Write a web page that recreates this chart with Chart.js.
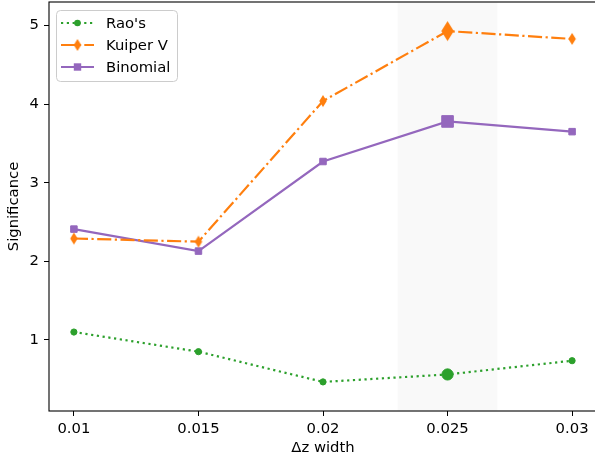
<!DOCTYPE html>
<html>
<head>
<meta charset="utf-8">
<script src="https://cdn.jsdelivr.net/npm/chart.js@4.4.1/dist/chart.umd.min.js"></script>
<style>
  html, body { margin: 0; padding: 0; background: #fff; overflow: hidden; }
  #wrap { width: 600px; height: 461px; }
</style>
</head>
<body>
<div id="wrap"><canvas id="miGrafico"></canvas></div>
<script>
// Datos de la figura
const anchos = [0.01, 0.015, 0.02, 0.025, 0.03];
const etiquetasX = ['0.01', '0.015', '0.02', '0.025', '0.03'];
const ticksY = [1, 2, 3, 4, 5];
const raos = [1.10, 0.85, 0.465, 0.56, 0.735];
const kuiperV = [2.29, 2.25, 4.04, 4.93, 4.83];
const binomial = [2.41, 2.13, 3.27, 3.78, 3.65];
const destacado = 3; // índice del ancho elegido
const banda = [0.023, 0.027];

const FUENTE = 'DejaVu Sans';
const VERDE = '#2ca02c', NARANJA = '#ff7f0e', MORADO = '#9467bd';
const PUNTOS = [2.2, 3.6];
const RAYA_PUNTO = [14.1, 3.5, 2.2, 3.5];

// Diamante estrecho (marcador 'd')
function diamante(w, h, color) {
    const c = document.createElement('canvas');
    c.width = Math.ceil(w) + 2;
    c.height = Math.ceil(h) + 2;
    const g = c.getContext('2d');
    const cx = c.width / 2, cy = c.height / 2;
    g.beginPath();
    g.moveTo(cx, cy - h / 2);
    g.lineTo(cx + w / 2, cy);
    g.lineTo(cx, cy + h / 2);
    g.lineTo(cx - w / 2, cy);
    g.closePath();
    g.fillStyle = color;
    g.fill();
    return c;
}
const diamanteChico = diamante(7.5, 12, NARANJA);
const diamanteGrande = diamante(12.5, 20, NARANJA);

const puntos = (vals) => anchos.map((x, i) => ({ x, y: vals[i] }));
const porPunto = (normal, grande) => anchos.map((_, i) => i === destacado ? grande : normal);

// Franja gris y marco de los ejes
const fondoPlugin = {
    id: 'fondo',
    beforeDatasetsDraw(chart) {
        const { ctx, chartArea, scales } = chart;
        const x0 = scales.x.getPixelForValue(banda[0]);
        const x1 = scales.x.getPixelForValue(banda[1]);
        ctx.save();
        ctx.fillStyle = 'rgba(128,128,128,0.05)';
        ctx.fillRect(x0, chartArea.top, x1 - x0, chartArea.bottom - chartArea.top);
        ctx.restore();
    },
    afterDraw(chart) {
        const { ctx, chartArea } = chart;
        ctx.save();
        ctx.strokeStyle = '#000';
        ctx.lineWidth = 1.1;
        ctx.strokeRect(chartArea.left, chartArea.top, chartArea.right - chartArea.left, chartArea.bottom - chartArea.top);

        // títulos de los ejes
        ctx.fillStyle = '#000';
        ctx.font = '14.8px "' + FUENTE + '"';
        ctx.textAlign = 'center';
        ctx.textBaseline = 'middle';
        ctx.fillText('\u0394z width', (chartArea.left + chartArea.right) / 2, 448);
        ctx.translate(14, (chartArea.top + chartArea.bottom) / 2);
        ctx.rotate(-Math.PI / 2);
        ctx.fillText('Significance', 0, 0);
        ctx.restore();

        dibujarLeyenda(chart);
    }
};

function dibujarLeyenda(chart) {
    const ctx = chart.ctx;
    ctx.save();
    const x = 56.5, y = 10.5, w = 121, h = 71, r = 4;
    ctx.beginPath();
    ctx.roundRect(x, y, w, h, r);
    ctx.fillStyle = 'rgba(255,255,255,0.8)';
    ctx.fill();
    ctx.strokeStyle = '#cccccc';
    ctx.lineWidth = 1;
    ctx.stroke();

    const filas = [
        { texto: "Rao's", color: VERDE, dash: PUNTOS, y: 23 },
        { texto: 'Kuiper V', color: NARANJA, dash: RAYA_PUNTO, y: 45 },
        { texto: 'Binomial', color: MORADO, dash: [], y: 67 }
    ];
    filas.forEach((f, i) => {
        ctx.beginPath();
        ctx.setLineDash(f.dash);
        ctx.strokeStyle = f.color;
        ctx.lineWidth = 2.2;
        ctx.moveTo(61, f.y);
        ctx.lineTo(94, f.y);
        ctx.stroke();
        ctx.setLineDash([]);
        ctx.fillStyle = f.color;
        const mx = 77.5;
        if (i === 0) {
            ctx.beginPath();
            ctx.arc(mx, f.y, 3.3, 0, Math.PI * 2);
            ctx.fill();
        } else if (i === 1) {
            ctx.drawImage(diamanteChico, mx - diamanteChico.width / 2, f.y - diamanteChico.height / 2);
        } else {
            ctx.fillRect(mx - 3.7, f.y - 3.7, 7.4, 7.4);
        }
        ctx.fillStyle = '#000';
        ctx.font = '14.8px "' + FUENTE + '"';
        ctx.textAlign = 'left';
        ctx.textBaseline = 'middle';
        ctx.fillText(f.texto, 106, f.y + 1);
    });
    ctx.restore();
}

const ctx = document.getElementById('miGrafico').getContext('2d');
const miGrafico = new Chart(ctx, {
    type: 'line',
    data: {
        datasets: [
            {
                label: "Rao's",
                data: puntos(raos),
                borderColor: VERDE,
                backgroundColor: VERDE,
                borderWidth: 2.2,
                borderDash: PUNTOS,
                pointStyle: 'circle',
                pointRadius: porPunto(3.1, 5.6),
                pointBorderWidth: 1
            },
            {
                label: 'Kuiper V',
                data: puntos(kuiperV),
                borderColor: NARANJA,
                backgroundColor: NARANJA,
                borderWidth: 2.2,
                borderDash: RAYA_PUNTO,
                pointStyle: porPunto(diamanteChico, diamanteGrande),
                pointRadius: porPunto(5, 9)
            },
            {
                label: 'Binomial',
                data: puntos(binomial),
                borderColor: MORADO,
                backgroundColor: MORADO,
                borderWidth: 2.2,
                pointStyle: 'rect',
                pointRadius: porPunto(4.6, 8.2),
                pointBorderWidth: 1
            }
        ]
    },
    options: {
        responsive: true,
        maintainAspectRatio: false,
        animation: false,
        layout: { autoPadding: false, padding: { top: 2, right: 3, left: 0, bottom: 0 } },
        plugins: {
            legend: { display: false },
            tooltip: { enabled: false }
        },
        scales: {
            x: {
                type: 'linear',
                min: 0.009,
                max: 0.031,
                afterBuildTicks: (s) => { s.ticks = anchos.map(v => ({ value: v })); },
                afterFit: (s) => { s.height = 50; s.paddingLeft = 0; s.paddingRight = 0; },
                ticks: {
                    color: '#000',
                    font: { family: FUENTE, size: 14.8 },
                    padding: 4,
                    maxRotation: 0,
                    callback: (v) => etiquetasX[anchos.indexOf(v)]
                },
                grid: { drawOnChartArea: false, drawTicks: true, tickLength: 5, tickColor: '#000', tickWidth: 1 },
                border: { display: false }
            },
            y: {
                min: 0.095,
                max: 5.30,
                afterBuildTicks: (s) => { s.ticks = ticksY.map(v => ({ value: v })); },
                afterFit: (s) => { s.width = 49; s.paddingTop = 0; s.paddingBottom = 0; },
                ticks: {
                    color: '#000',
                    font: { family: FUENTE, size: 14.8 },
                    padding: 5
                },
                grid: { drawOnChartArea: false, drawTicks: true, tickLength: 5, tickColor: '#000', tickWidth: 1 },
                border: { display: false }
            }
        }
    },
    plugins: [fondoPlugin]
});
</script>
</body>
</html>
